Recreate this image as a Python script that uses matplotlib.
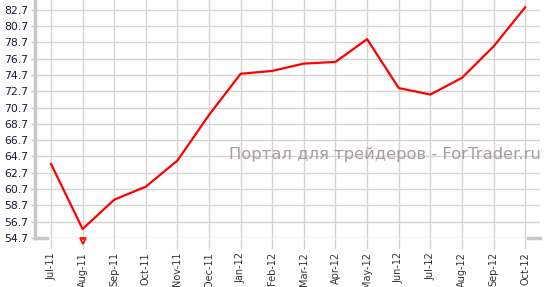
import matplotlib
matplotlib.use("Agg")
import matplotlib.pyplot as plt
import numpy as np

months = ["Jul-11", "Aug-11", "Sep-11", "Oct-11", "Nov-11", "Dec-11", "Jan-12", "Feb-12",
          "Mar-12", "Apr-12", "May-12", "Jun-12", "Jul-12", "Aug-12", "Sep-12", "Oct-12"]
values = [63.8, 55.8, 59.4, 61.0, 64.2, 69.8, 74.85, 75.2,
          76.1, 76.3, 79.1, 73.1, 72.3, 74.35, 78.2, 83.0]
y_ticks = [54.7 + 2 * i for i in range(15)]

grid_col = "#d4d4d4"

fig = plt.figure(figsize=(5.46, 2.87), dpi=100)
ax = fig.add_axes([35 / 546, 1 - 238 / 287, 505 / 546, 238 / 287])

x = np.arange(len(months))
ax.plot(x, values, color="#ff0000", lw=1.6, zorder=3)

ax.set_xlim(-0.506, 15.47)
ax.set_ylim(54.7, 83.9)
ax.set_xticks(x)
ax.set_xticklabels(months, rotation=90, fontsize=7, color="#333333")
ax.set_yticks(y_ticks)
ax.set_yticklabels(["%.1f" % v for v in y_ticks], fontsize=7.8, color="#1a1a33")
ax.grid(True, color=grid_col, lw=1)
ax.set_axisbelow(True)

for s in ["top", "right", "bottom"]:
    ax.spines[s].set_visible(False)
ax.spines["left"].set_color("#c8c8c8")
ax.spines["left"].set_linewidth(2.5)

ax.tick_params(axis="x", length=8, color=grid_col, width=1, pad=2)
ax.tick_params(axis="y", length=3, color="#c8c8c8", width=1, pad=2)

# small stubs at the bottom corners
ax.plot([-0.506, -0.13], [54.7, 54.7], color="#c8c8c8", lw=2.5, clip_on=False)
ax.plot([15.1, 15.47], [54.7, 54.7], color="#c8c8c8", lw=2.5, clip_on=False)

# minimum marker under Aug-11
ax.plot([1], [54.3], marker="v", ms=5, mfc="none", mec="#ff0000", mew=1.2,
        clip_on=False, zorder=4)
ax.plot([1, 1], [54.5, 54.85], color="#ff0000", lw=1.2, ls=(0, (1, 1)), clip_on=False)

fig.text(385 / 546, 1 - 155 / 287, "Портал для трейдеров - ForTrader.ru",
         fontsize=11.8, color="#a89c9c", ha="center", va="center")

fig.savefig("out.png", dpi=100)
